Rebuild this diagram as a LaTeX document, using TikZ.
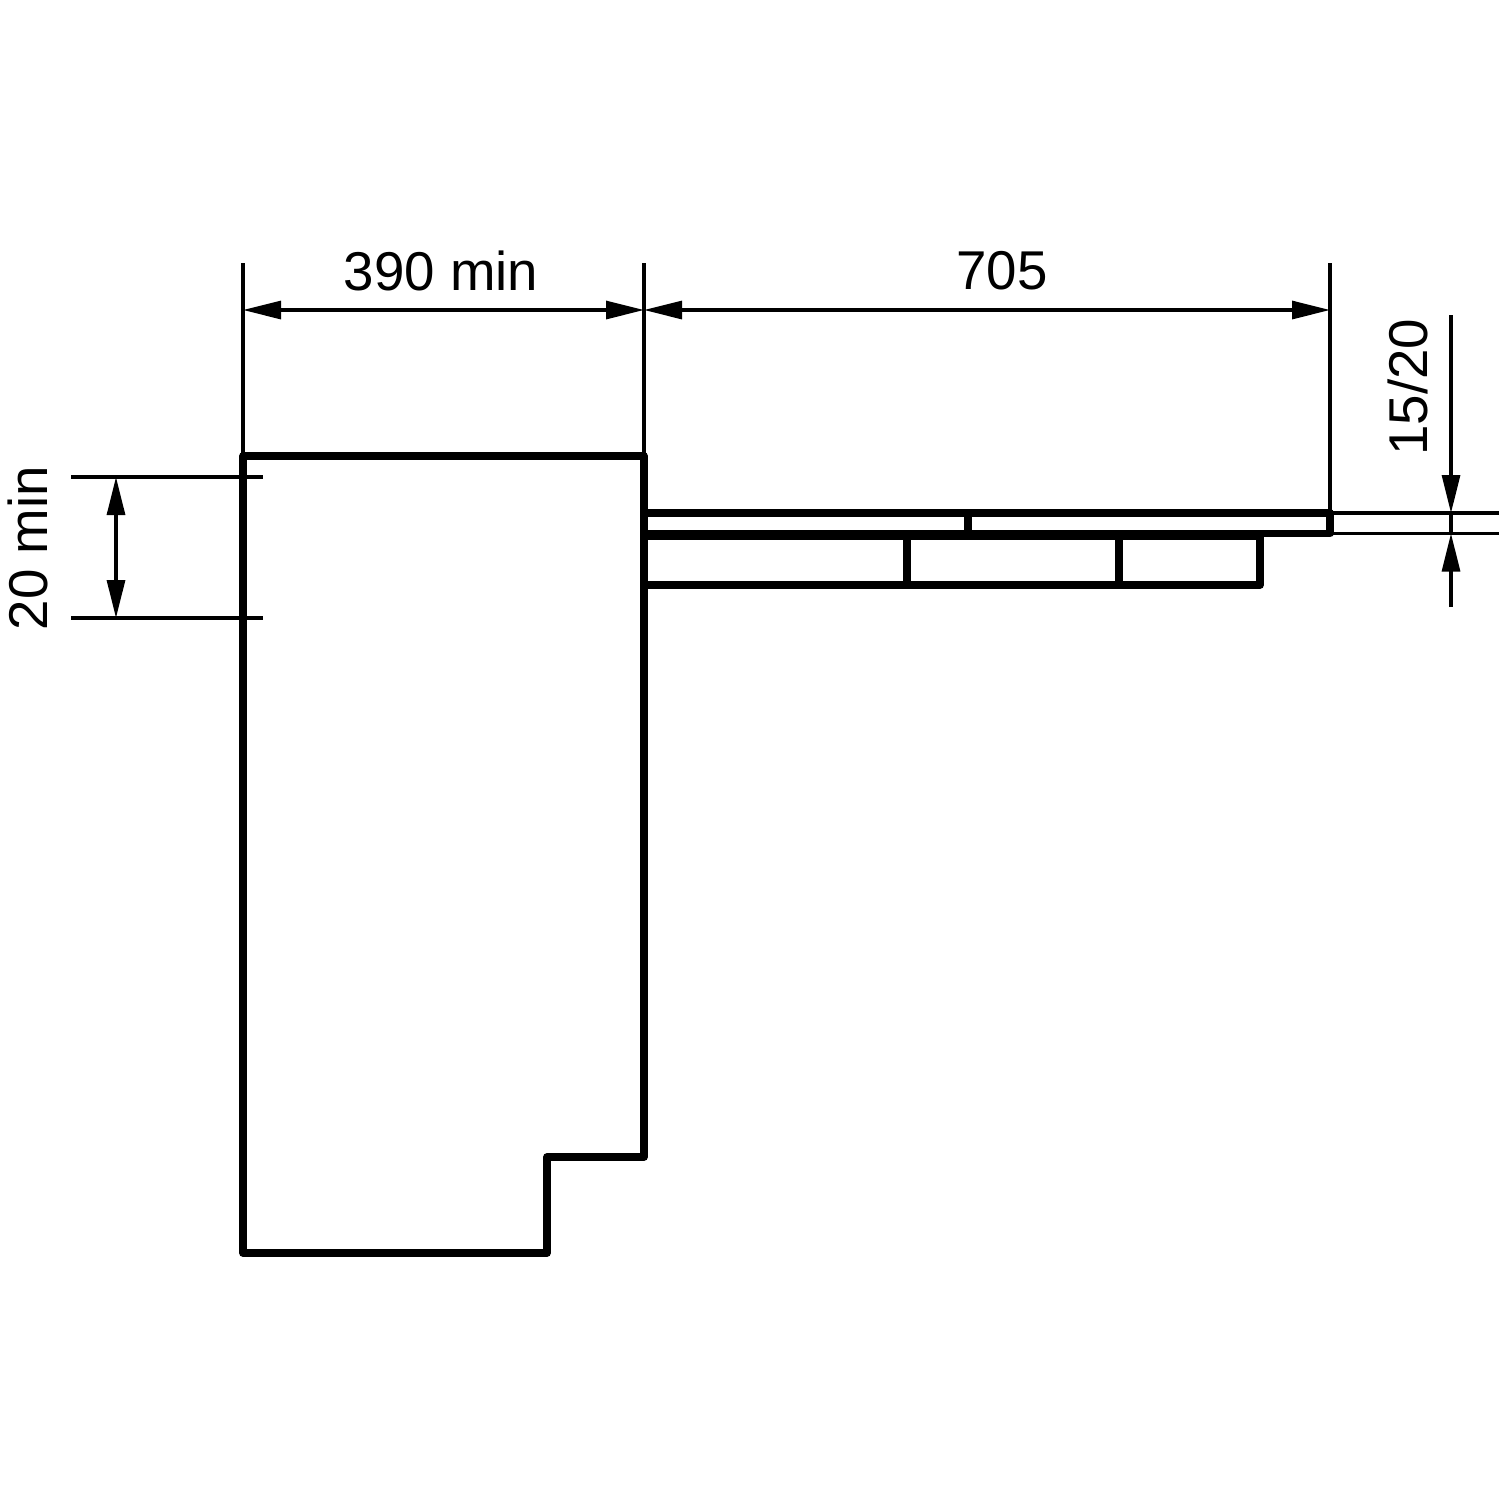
\documentclass[tikz,border=0pt]{standalone}
\usepackage{fontspec}
\setmainfont{Liberation Sans}
\usetikzlibrary{arrows.meta}

\begin{document}
\begin{tikzpicture}[x=0.75pt,y=0.75pt,yscale=-1,xscale=1,
    outline/.style={line width=5.6pt,line join=round,line cap=round},
    thinline/.style={line width=2.3pt},
    dimline/.style={line width=2.3pt,{Triangle[length=28.5pt,width=13.5pt]}-{Triangle[length=28.5pt,width=13.5pt]}},
    dimtip/.style={line width=2.3pt,-{Triangle[length=28.5pt,width=13.5pt]}},
    dimtext/.style={inner sep=0.75pt,font=\fontsize{41}{44}\selectfont}]
    \useasboundingbox (0,0) rectangle (1500,1500);

    % Cabinet
    \draw [outline] (243,456) -- (644,456) -- (644,1157) -- (547,1157) -- (547,1253) -- (243,1253) -- cycle;

    % Upper plate
    \draw [outline] (644,513) -- (1330,513) -- (1330,533.5) -- (644,533.5) ;
    \draw [outline] (968,513) -- (968,533.5) ;

    % Lower box
    \draw [outline] (644,536.5) -- (1260,536.5) -- (1260,585) -- (644,585) ;
    \draw [outline] (907,536.5) -- (907,585) ;
    \draw [outline] (1119,536.5) -- (1119,585) ;

    % Extension points
    \coordinate (wa) at (243,310);
    \coordinate (wb) at (644,310);
    \coordinate (wc) at (1330,310);
    \coordinate (ha) at (116,477);
    \coordinate (hb) at (116,618);
    \coordinate (ta) at (1451,513);
    \coordinate (tb) at (1451,533.5);
    \coordinate (tc) at (1451,315);
    \coordinate (td) at (1451,607);

    % Extension lines
    \draw [thinline] (243,263) -- (243,456) ;
    \draw [thinline] (644,263) -- (644,456) ;
    \draw [thinline] (1330,263) -- (1330,513) ;
    \draw [thinline] (71,477) -- (263,477) ;
    \draw [thinline] (71,618) -- (263,618) ;
    \draw [thinline] (1330,513) -- (1499,513) ;
    \draw [thinline] (1330,533.5) -- (1499,533.5) ;

    % Dimension lines
    \draw [dimline] (wa) -- (wb) ;
    \draw [dimline] (wb) -- (wc) ;
    \draw [dimline] (ha) -- (hb) ;
    \draw [dimtip] (tc) -- (ta) ;
    \draw [dimtip] (td) -- (tb) ;
    \draw [thinline] (ta) -- (tb) ;

    % Text Node
    \node [dimtext] (widthmin) at (441,271) {390 min};
    % Text Node
    \node [dimtext] (reach) at (1002,271) {705};
    % Text Node
    \node [dimtext,rotate=90] (gapmin) at (28,548) {20 min};
    % Text Node
    \node [dimtext,rotate=90] (thick) at (1408,387) {15/20};
\end{tikzpicture}
\end{document}
